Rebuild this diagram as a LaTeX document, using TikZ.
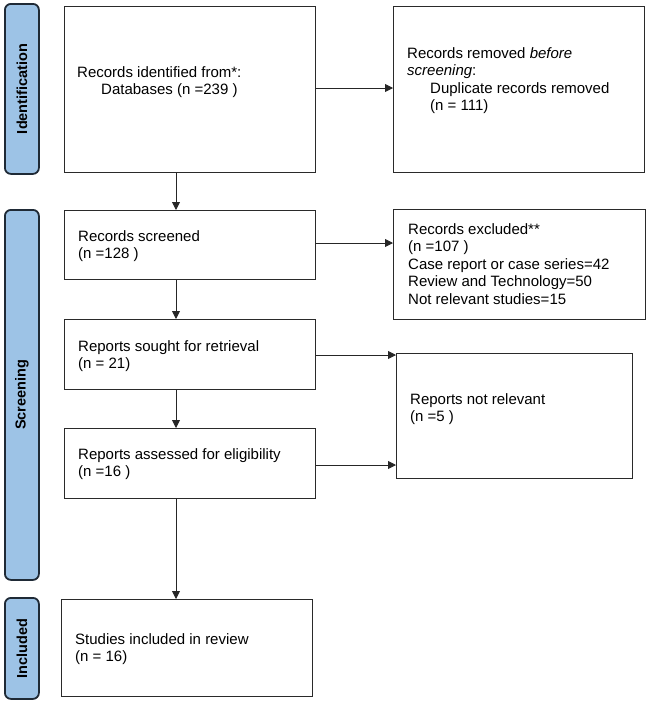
\documentclass[tikz,border=0pt]{standalone}
\usepackage{fontspec}
\setmainfont{Liberation Sans}
\usetikzlibrary{arrows.meta}
\definecolor{barfill}{HTML}{9DC3E6}
\definecolor{barline}{HTML}{1F2A36}
\definecolor{boxline}{HTML}{2A2A2A}
\newcommand{\tlines}[1]{\begin{tabular}[t]{@{}l@{}}#1\end{tabular}}
\begin{document}
\begin{tikzpicture}[x=1pt,y=-1pt,
  box/.style={draw=boxline, line width=1.3pt, fill=white, anchor=north west, inner sep=0pt},
  sidebar/.style={draw=barline, line width=1.8pt, fill=barfill, rounded corners=6pt, anchor=north west, inner sep=0pt},
  barlabel/.style={rotate=90, font=\fontsize{14.5}{17}\selectfont\bfseries},
  txt/.style={anchor=base west, inner sep=0pt, font=\fontsize{15}{17.5}\selectfont},
  arr/.style={draw=black!85, line width=0.9pt, -{Triangle[length=8pt,width=8pt]}}]
\useasboundingbox (0,0) rectangle (647,702);
% side bars
\node[sidebar, minimum width=34pt, minimum height=170pt] (sbI) at (4,3) {};
\node[barlabel] (lI) at (sbI.center) {Identification};
\node[sidebar, minimum width=34pt, minimum height=370pt] (sbS) at (4,209) {};
\node[barlabel] (lS) at (sbS.center) {Screening};
\node[sidebar, minimum width=34pt, minimum height=101pt] (sbC) at (4,597) {};
\node[barlabel] (lC) at (sbC.center) {Included};
% boxes
\node[box, minimum width=251pt, minimum height=166pt] (ident) at (64,6) {};
\node[box, minimum width=251pt, minimum height=166pt] (removed) at (393,6) {};
\node[box, minimum width=251pt, minimum height=69pt] (screened) at (64,210) {};
\node[box, minimum width=252pt, minimum height=110pt] (excluded) at (393,209) {};
\node[box, minimum width=251pt, minimum height=70pt] (sought) at (64,319) {};
\node[box, minimum width=236pt, minimum height=125pt] (notrel) at (396,353) {};
\node[box, minimum width=251pt, minimum height=70pt] (assessed) at (64,428) {};
\node[box, minimum width=251pt, minimum height=97pt] (included) at (61,599) {};
% texts
\node[txt] (tident) at (77,77) {\tlines{Records identified from*:\\\hspace*{24pt}Databases (n =239 )}};
\node[txt] (tremoved) at (407,58) {\tlines{Records removed \textit{before}\\\textit{screening}:\\\hspace*{23pt}Duplicate records removed\\\hspace*{23pt}(n = 111)}};
\node[txt] (tscreened) at (78,241) {\tlines{Records screened\\(n =128 )}};
\node[txt] (texcluded) at (408,234) {\tlines{Records excluded**\\(n =107 )\\Case report or case series=42\\Review and Technology=50\\Not relevant studies=15}};
\node[txt] (tsought) at (78,351) {\tlines{Reports sought for retrieval\\(n = 21)}};
\node[txt] (tnotrel) at (410,404) {\tlines{Reports not relevant\\(n =5 )}};
\node[txt] (tassessed) at (78,459) {\tlines{Reports assessed for eligibility\\(n =16 )}};
\node[txt] (tincluded) at (75,644) {\tlines{Studies included in review\\(n = 16)}};
% connectors
\coordinate (spine) at (176,0);
\coordinate (r1) at (0,88);
\coordinate (r2) at (0,243);
\coordinate (r3) at (0,355);
\coordinate (r4) at (0,465);
\draw[arr] (ident.east |- r1) -- (removed.west |- r1);
\draw[arr] (ident.south -| spine) -- (screened.north -| spine);
\draw[arr] (screened.east |- r2) -- (excluded.west |- r2);
\draw[arr] (screened.south -| spine) -- (sought.north -| spine);
\draw[arr] (sought.east |- r3) -- (notrel.west |- r3);
\draw[arr] (sought.south -| spine) -- (assessed.north -| spine);
\draw[arr] (assessed.east |- r4) -- (notrel.west |- r4);
\draw[arr] (assessed.south -| spine) -- (included.north -| spine);
\end{tikzpicture}
\end{document}
